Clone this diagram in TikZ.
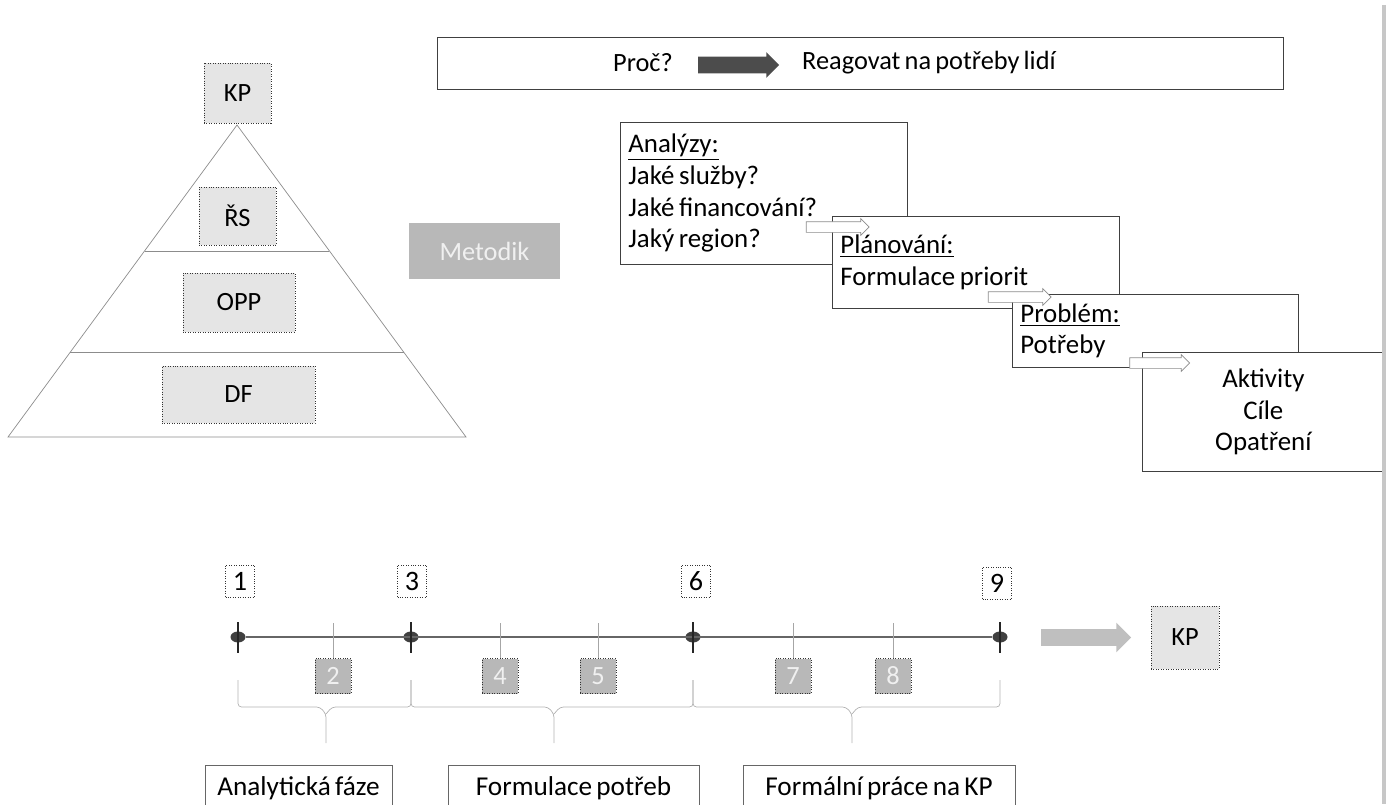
\documentclass[tikz,border=0pt]{standalone}
\usepackage{fontspec}
\setmainfont{Carlito}[WordSpace=0.7]
\usetikzlibrary{positioning,shapes.arrows,shapes.geometric}

\begin{document}
\begin{tikzpicture}[x=0.02cm,y=-0.02cm,
  every node/.style={font=\fontsize{15}{18}\selectfont},
  tag/.style={draw=black!80,densely dotted,fill=black!10,inner sep=0pt},
  dim tag/.style={tag,fill=black!28,text=black!6,minimum width=0.72cm,minimum height=0.7cm},
  num/.style={draw=black!80,densely dotted,fill=white,inner sep=0pt,minimum width=0.58cm,minimum height=0.64cm,font=\fontsize{16}{18}\selectfont},
  stair/.style={draw=black!75,fill=white,anchor=north west,inner xsep=0.16cm,inner ysep=0pt,align=left,font=\fontsize{15.3}{18}\selectfont,execute at begin node={\spaceskip=.17em\relax}},
  phase/.style={draw=black!60,fill=white,anchor=north,inner sep=0pt,minimum height=0.9cm,font=\fontsize{15.5}{18}\selectfont},
  hint/.style={single arrow,draw=black!45,fill=white,inner xsep=0pt,inner ysep=0.1cm,minimum height=1.26cm,single arrow head extend=0.06cm},
  brace/.style={draw=black!30,rounded corners=2pt},
  dot/.style={ellipse,fill=black!75,inner sep=0pt,minimum width=0.3cm,minimum height=0.22cm}]
\useasboundingbox (0,0) rectangle (1391,804);
\clip (0,0) rectangle (1391,804);

\node[draw=black!75,minimum width=16.92cm,minimum height=1.04cm] (why) at (860,63) {};
\node[anchor=east] (proc) at (679,63) {Proč?};
\node[single arrow,fill=black!70,inner xsep=0pt,inner ysep=0.16cm,minimum height=1.62cm,single arrow head extend=0.09cm] (goal) at (734.5,65) {};
\node[anchor=west] (react) at (796,63) {Reagovat na potřeby lidí};

\draw[black!45] (237,125) -- (466,437) -- (8,437) -- cycle;
\draw[black!45] (145,251) -- (329,251) (70,352) -- (404,352);
\node[tag,minimum width=1.34cm,minimum height=1.2cm] (kp) at (237.5,93) {KP};
\node[tag,minimum width=1.54cm,minimum height=1.16cm] (rs) at (237.5,216) {ŘS};
\node[tag,minimum width=2.24cm,minimum height=1.18cm] (opp) at (239,302.5) {OPP};
\node[tag,minimum width=3.06cm,minimum height=1.14cm] (df) at (238.5,394.5) {DF};
\node[fill=black!28,text=black!6,minimum width=3.02cm,minimum height=1.12cm] (met) at (484.5,251) {Metodik};

\node[stair,text width=5.42cm,minimum height=2.84cm] (ana) at (620,122)
  {\underline{Analýzy:}\\Jaké služby?\\Jaké financování?\\Jaký region?};
\node[stair,text width=5.42cm,minimum height=1.84cm] (plan) at (832,216)
  {\underline{Plánování:}\\Formulace priorit};
\node[hint] (h1) at (835,227) {};
\node[stair,text width=5.40cm,minimum height=1.46cm] (prob) at (1012,294)
  {\underline{Problém:}\\Potřeby};
\node[hint] (h2) at (1017,297) {};
\node[stair,text width=4.52cm,minimum height=2.38cm,align=center] (act) at (1142,352)
  {Aktivity\\Cíle\\Opatření};
\node[hint,minimum height=1.2cm] (h3) at (1157,363) {};

\node[dot] (p1) at (238,637) {};
\node[dot] (p3) at (411,637) {};
\node[dot] (p6) at (693,637) {};
\node[dot] (p9) at (1000,637) {};
\draw[black!60,line width=1pt] (p1) -- (p9);
\foreach \p in {p1,p3,p6,p9}
  \draw[black!85,line width=0.8pt] (\p.center) ++(0,-15) -- ++(0,31);

\node[num] (n1) at (240,581) {1};
\node[num] (n3) at (412,581) {3};
\node[num] (n6) at (696,581) {6};
\node[num] (n9) at (997,583) {9};

\foreach \x/\k in {333/2,500/4,598/5,793/7,893/8} {
  \node[dim tag] (n\k) at (\x,676) {\k};
  \coordinate (t\k) at (\x,623);
  \draw[black!35] (t\k) -- (n\k);
}

\foreach \a/\m/\b in {238/326/411,411/554/693,693/852/1000}
  \draw[brace] (\a,680) -- (\a,707) -- (\m-6,707) -- (\m,714) -- (\m,743)
    (\m,714) -- (\m+6,707) -- (\b,707) -- (\b,680);

\node[phase,minimum width=3.74cm] (ph1) at (298.5,765) {Analytická fáze};
\node[phase,minimum width=5.02cm] (ph2) at (573.5,765) {Formulace potřeb};
\node[phase,minimum width=5.44cm] (ph3) at (879,765) {Formální práce na KP};

\node[tag,minimum width=1.36cm,minimum height=1.26cm] (kpend) at (1185,637.5) {KP};
\node[single arrow,fill=black!25,inner xsep=0pt,inner ysep=0.16cm,minimum height=1.8cm,single arrow head extend=0.13cm,left=0.38cm of kpend] (done) {};

\draw[black!22,line width=2pt] (1384,5) -- (1384,804);
\end{tikzpicture}
\end{document}
